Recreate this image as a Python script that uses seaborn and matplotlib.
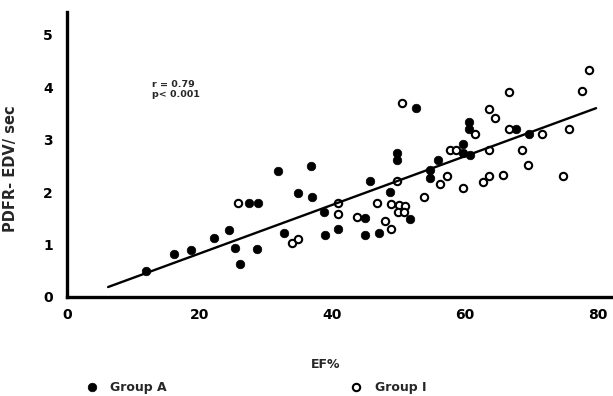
import seaborn as sns
import pandas as pd
import numpy as np
import matplotlib.pyplot as plt

# Group A (filled dots)
group_a_ef = [11.9, 16.1, 18.7, 22.2, 24.5, 25.3, 26.1, 27.5, 28.8, 28.7,
              31.8, 32.8, 34.9, 36.8, 37.0, 38.8, 38.9, 40.9, 44.9, 44.9,
              45.7, 47.1, 48.7, 49.7, 49.7, 51.8, 52.6, 54.7, 54.7, 55.9,
              59.7, 59.8, 60.8, 60.6, 60.6, 67.7, 69.7]
group_a_pdfr = [0.50, 0.82, 0.90, 1.12, 1.28, 0.93, 0.62, 1.79, 1.79, 0.91,
                2.40, 1.21, 1.99, 2.50, 1.90, 1.61, 1.19, 1.30, 1.50, 1.19,
                2.21, 1.21, 2.00, 2.74, 2.61, 1.49, 3.61, 2.42, 2.26, 2.61,
                2.91, 2.74, 2.70, 3.34, 3.21, 3.21, 3.11]

# Group I (open circles)
group_i_ef = [25.8, 33.9, 34.8, 40.8, 40.8, 43.8, 46.8, 47.9, 48.8, 48.8,
              49.8, 50.0, 51.0, 49.9, 50.9, 50.6, 53.8, 56.3, 57.3, 57.7,
              58.7, 59.7, 61.6, 62.8, 63.7, 63.7, 63.6, 64.6, 65.7, 66.6,
              66.6, 68.7, 69.6, 71.6, 74.8, 75.7, 77.7, 78.7]
group_i_pdfr = [1.79, 1.02, 1.10, 1.80, 1.58, 1.52, 1.80, 1.45, 1.78, 1.29,
                2.21, 1.75, 1.73, 1.62, 1.61, 3.70, 1.91, 2.16, 2.31, 2.80,
                2.80, 2.07, 3.11, 2.20, 2.31, 2.80, 3.59, 3.41, 2.32, 3.90,
                3.20, 2.81, 2.51, 3.10, 2.31, 3.21, 3.92, 4.32]

# regression line as printed
fit_slope = 0.0463
fit_intercept = -0.097
fit_ef_range = [6.2, 79.8]

x_ticks = [0, 20, 40, 60, 80]
y_ticks = [0, 1, 2, 3, 4, 5]

df_a = pd.DataFrame({'ef': group_a_ef, 'pdfr': group_a_pdfr})
df_i = pd.DataFrame({'ef': group_i_ef, 'pdfr': group_i_pdfr})
fit_x = np.array(fit_ef_range)
df_fit = pd.DataFrame({'ef': fit_x, 'pdfr': fit_intercept + fit_slope * fit_x})

sns.set_style('white')
plt.rcParams['font.family'] = ['DejaVu Sans']
plt.rcParams['font.weight'] = 'bold'

fig = plt.figure(figsize=(6.13, 3.96), dpi=100)
ax = fig.add_axes([67 / 613, 99 / 396, 546 / 613, 285 / 396])

sns.lineplot(data=df_fit, x='ef', y='pdfr', ax=ax, color='black', linewidth=1.7)
sns.scatterplot(data=df_a, x='ef', y='pdfr', ax=ax, color='black', s=38,
                edgecolor='black', linewidth=0.5, label='Group A')
sns.scatterplot(data=df_i, x='ef', y='pdfr', ax=ax, facecolor='white', s=28,
                edgecolor='black', linewidth=1.5, label='Group I')

ax.set_xlim(0, 82.35)
ax.set_ylim(0, 5.43)
ax.set_xticks(x_ticks)
ax.set_yticks(y_ticks)
ax.tick_params(axis='both', direction='in', length=3, width=1, labelsize=10, colors='black')
ax.tick_params(axis='x', pad=8)
ax.tick_params(axis='y', pad=10)
for lab in ax.get_xticklabels() + ax.get_yticklabels():
    lab.set_fontweight('heavy')

for side in ['top', 'right']:
    ax.spines[side].set_visible(False)
for side in ['left', 'bottom']:
    ax.spines[side].set_color('black')
    ax.spines[side].set_linewidth(2.4)

ax.set_xlabel('EF%', fontsize=9, fontweight='heavy')
ax.set_ylabel('PDFR- EDV/ sec', fontsize=10.5, fontweight='heavy')
ax.xaxis.set_label_coords(0.474, -0.213)
ax.yaxis.set_label_coords(-0.09, 0.45)

ax.text(12.8, 3.96, 'r = 0.79\np< 0.001', fontsize=6.8, fontweight='heavy',
        va='center', ha='left', linespacing=1.1)

handles, labels = ax.get_legend_handles_labels()
if ax.get_legend() is not None:
    ax.get_legend().remove()
fig.legend([handles[0]], [labels[0]], loc='center left', bbox_to_anchor=(74 / 613, 9 / 396),
           frameon=False, handlelength=1, handletextpad=1.0, prop={'size': 9, 'weight': 'heavy'})
fig.legend([handles[1]], [labels[1]], loc='center left', bbox_to_anchor=(339 / 613, 9 / 396),
           frameon=False, handlelength=1, handletextpad=1.0, prop={'size': 9, 'weight': 'heavy'})

fig.savefig('out.png', dpi=100)
